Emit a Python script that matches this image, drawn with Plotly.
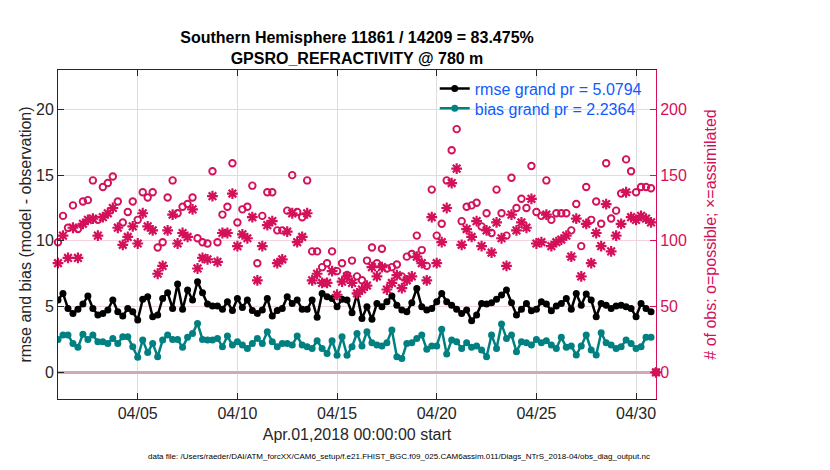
import pandas as pd
import plotly.graph_objects as go

# 6-hourly bins, Apr 01 00Z .. May 01 00Z (last bin has no obs)
times = pd.date_range("2018-04-01 00:00", periods=121, freq="6h")

rmse = [5.5, 6.0, 4.86, 4.48, 4.79, 5.19, 5.8, 4.86, 4.36, 4.48, 4.74, 5.5, 4.6, 4.28, 4.86, 4.6, 3.98, 5.55, 5.75, 4.23,
        4.36, 5.62, 6.05, 4.86, 6.71, 4.79, 6.26, 5.5, 6.89, 6.05, 5.19, 5.04, 5.04, 4.79, 5.37, 4.7, 5.62, 4.94, 5.5, 4.7,
        4.48, 4.74, 5.62, 4.28, 4.7, 4.86, 5.75, 5.24, 5.5, 4.79, 4.79, 5.5, 4.18, 6.0, 5.75, 5.62, 4.99, 5.55, 5.5, 4.53,
        5.95, 4.1, 4.99, 4.03, 5.24, 4.99, 5.37, 5.8, 5.11, 4.74, 4.6, 5.3, 6.38, 4.99, 4.74, 4.86, 5.37, 6.0, 5.37, 5.11,
        4.79, 4.48, 4.74, 3.93, 4.36, 5.24, 5.19, 5.3, 5.55, 5.88, 6.26, 5.3, 4.36, 4.79, 5.24, 4.68, 4.79, 5.37, 5.19, 4.68,
        5.05, 5.24, 5.62, 4.79, 6.0, 5.11, 5.95, 5.5, 4.23, 5.24, 5.11, 4.86, 5.04, 5.11, 4.99, 4.86, 4.23, 5.24, 4.86, 4.6,
        None]

bias = [2.5, 2.84, 2.84, 2.2, 1.9, 2.9, 2.5, 2.84, 2.33, 2.33, 2.2, 2.58, 2.2, 2.7, 2.7, 1.95, 1.15, 2.45, 1.5, 2.2,
        1.19, 2.45, 2.84, 2.5, 2.5, 1.9, 2.66, 2.96, 3.72, 2.5, 2.45, 2.45, 2.58, 1.95, 2.76, 2.07, 2.33, 2.07, 1.82, 2.2,
        2.58, 2.2, 3.09, 2.33, 1.95, 2.2, 2.2, 2.07, 2.76, 2.07, 1.95, 1.82, 2.4, 1.82, 1.44, 2.4, 1.3, 2.7, 1.3, 1.95,
        2.96, 2.0, 3.09, 2.25, 2.07, 2.0, 2.25, 3.22, 1.19, 1.05, 2.2, 2.25, 2.58, 2.84, 1.75, 2.0, 2.0, 3.27, 1.4, 2.45,
        2.33, 1.82, 2.25, 1.9, 2.0, 1.7, 1.19, 2.84, 1.82, 3.67, 2.58, 2.84, 1.57, 2.33, 2.25, 2.07, 2.5, 2.25, 2.4, 2.07,
        1.82, 2.66, 1.9, 2.0, 1.32, 2.0, 2.84, 1.7, 1.32, 3.01, 2.25, 2.07, 1.82, 1.95, 2.45, 2.2, 1.82, 1.95, 2.66, 2.66,
        None]

n_possible = [99, 119, 110, 127, 109, 130, 131, 146, 116, 141, 144, 149, 130, 114, 122, 130, 116, 137, 133, 137,
              95, 99, 133, 146, 121, 126, 128, 133, 102, 99, 98, 153, 99, 120, 126, 159, 114, 124, 126, 142,
              83, 119, 137, 137, 108, 108, 123, 150, 122, 118, 146, 92, 92, 80, 83, 92, 77, 83, 74, 85,
              73, 70, 85, 95, 83, 94, 79, 80, 82, 73, 88, 90, 104, 93, 81, 139, 104, 113, 146, 169,
              185, 115, 126, 127, 129, 111, 121, 106, 139, 121, 104, 148, 125, 132, 125, 157, 122, 119, 146, 116,
              121, 121, 121, 108, 128, 96, 141, 116, 130, 113, 159, 117, 123, 136, 162, 153, 137, 141, 141, 140,
              0]

n_used = [83, 104, 87, 110, 87, 113, 116, 117, 104, 118, 121, 125, 110, 97, 103, 111, 98, 121, 111, 108,
          75, 81, 108, 120, 98, 106, 103, 124, 79, 87, 86, 134, 84, 106, 106, 136, 96, 105, 102, 118,
          70, 96, 112, 115, 83, 86, 107, 121, 99, 103, 121, 70, 75, 68, 68, 77, 59, 69, 73, 68,
          60, 63, 66, 80, 73, 80, 63, 68, 74, 64, 70, 73, 88, 83, 70, 118, 83, 99, 125, 144,
          155, 97, 109, 103, 115, 96, 108, 91, 114, 102, 81, 120, 108, 114, 110, 132, 98, 99, 120, 96,
          99, 101, 104, 88, 117, 73, 113, 83, 106, 96, 128, 92, 104, 113, 137, 118, 116, 119, 117, 114,
          0]

tick_dates = ["2018-04-05", "2018-04-10", "2018-04-15", "2018-04-20", "2018-04-25", "2018-04-30"]
tick_text = ["04/05", "04/10", "04/15", "04/20", "04/25", "04/30"]

FONT = "Liberation Sans, Arial, Helvetica, sans-serif"
PINK = "#d4105a"
TEAL = "#008080"
BLUE = "#0f5bff"

fig = go.Figure()

fig.add_trace(go.Scatter(x=times, y=n_possible, yaxis="y2", mode="markers", showlegend=False,
                         marker=dict(symbol="circle-open", size=6.5, color=PINK, line=dict(width=1.9, color=PINK)),
                         cliponaxis=False))
fig.add_trace(go.Scatter(x=times, y=n_used, yaxis="y2", mode="markers", showlegend=False,
                         marker=dict(symbol="asterisk-open", size=9, color=PINK, line=dict(width=2.2, color=PINK)),
                         cliponaxis=False))
fig.add_trace(go.Scatter(x=times, y=rmse, mode="lines+markers", name="rmse grand pr = 5.0794", legend="legend",
                         line=dict(color="black", width=2.5), marker=dict(size=7, color="black")))
fig.add_trace(go.Scatter(x=times, y=bias, mode="lines+markers", name="bias grand pr = 2.2364", legend="legend2",
                         line=dict(color=TEAL, width=2.5), marker=dict(size=7, color=TEAL)))

# the page body adds an 8px offset, so the figure is drawn 8px smaller than the window
fig.update_layout(
    width=822, height=462,
    margin=dict(l=50, r=174, t=62, b=71, autoexpand=False),
    plot_bgcolor="white", paper_bgcolor="white",
    font=dict(family=FONT, size=16, color="#262626"),
    title=dict(text="<b>Southern Hemisphere 11861 / 14209 = 83.475%<br>GPSRO_REFRACTIVITY @ 780 m</b>",
               x=0.5, xref="paper", xanchor="center", y=1 - 35 / 462, yref="container", yanchor="top",
               font=dict(size=16, color="black")),
    xaxis=dict(range=[times[0], times[-1]], tickvals=tick_dates, ticktext=tick_text, automargin=False,
               ticks="inside", ticklen=6, tickcolor="#262626", showline=True, linecolor="#262626", linewidth=1,
               mirror="ticks", showgrid=True, gridcolor="#dedede", gridwidth=1, zeroline=False,
               title=dict(text="Apr.01,2018 00:00:00 start", standoff=7, font=dict(size=16))),
    yaxis=dict(range=[-2.03, 23], tickvals=[0, 5, 10, 15, 20], ticks="inside", ticklen=6, automargin=False,
               tickcolor="#262626", showline=True, linecolor="#262626", linewidth=1,
               showgrid=False, zeroline=True, zerolinecolor="#cfa9b3", zerolinewidth=2.5,
               title=dict(text="rmse and bias (model - observation)", standoff=0, font=dict(size=16))),
    yaxis2=dict(range=[-20.3, 230], overlaying="y", side="right", tickvals=[0, 50, 100, 150, 200],
                ticks="inside", ticklen=6, tickcolor=PINK, showline=True, linecolor=PINK, linewidth=1,
                showgrid=True, gridcolor="#f3d3df", gridwidth=1, zeroline=False, automargin=False,
                tickfont=dict(color=PINK, size=16),
                title=dict(text="# of obs: o=possible; \u00d7=assimilated", standoff=18,
                           font=dict(color=PINK, size=16))),
    legend=dict(x=0.63, y=0.995, xanchor="left", yanchor="top", bgcolor="rgba(255,255,255,0)",
                font=dict(color=BLUE, size=16)),
    legend2=dict(x=0.63, y=0.935, xanchor="left", yanchor="top", bgcolor="rgba(255,255,255,0)",
                 font=dict(color=BLUE, size=16)),
)

fig.add_annotation(text="data file: /Users/raeder/DAI/ATM_forcXX/CAM6_setup/f.e21.FHIST_BGC.f09_025."
                        "CAM6assim.011/Diags_NTrS_2018-04/obs_diag_output.nc",
                   xref="paper", yref="paper", x=0.57, y=-0.176, xanchor="center", yanchor="middle",
                   showarrow=False, font=dict(size=8, color="black"))

fig.write_html("out.html")
